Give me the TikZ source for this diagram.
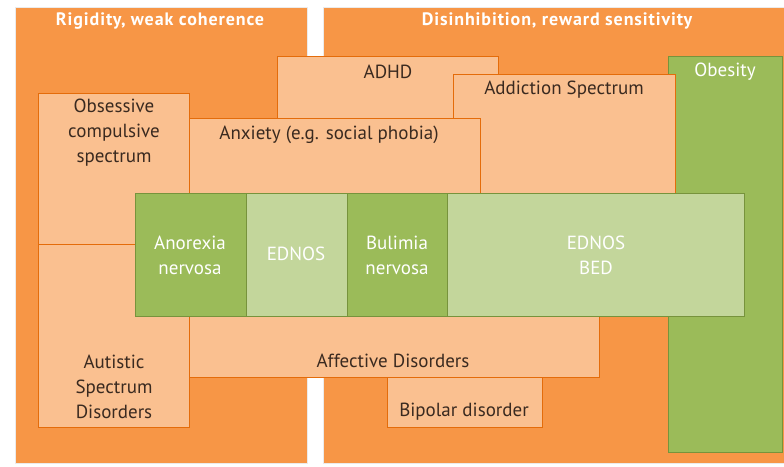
\documentclass[tikz,border=0pt]{standalone}
\usepackage{fontspec}
\setmainfont{PT Sans}
\usetikzlibrary{positioning}
\definecolor{org}{HTML}{F79646}
\definecolor{peach}{HTML}{FAC090}
\definecolor{orgline}{HTML}{E46C0A}
\definecolor{grn}{HTML}{9BBB59}
\definecolor{lgrn}{HTML}{C3D69B}
\definecolor{grnline}{HTML}{77933C}
\definecolor{txt}{HTML}{3A2A20}
\tikzset{
  panel/.style={fill=org, draw=black!8, line width=1pt, anchor=north west, inner sep=0pt},
  box/.style={fill=peach, draw=orgline, line width=1.2pt, anchor=north west, inner sep=0pt},
  dk/.style={box, fill=grn, draw=grnline},
  lt/.style={box, fill=lgrn, draw=grnline},
  lbl/.style={text=txt, font=\fontsize{19}{25}\selectfont, align=center, inner sep=0pt},
  wlbl/.style={lbl, text=white},
  ttl/.style={text=white, font=\bfseries\fontsize{18}{20}\selectfont\addfontfeature{LetterSpace=5}, inner sep=0pt},
}
\begin{document}
\begin{tikzpicture}[x=1pt, y=-1pt]
  \useasboundingbox (0,0) rectangle (784,466);
  % background panels
  \node[panel, minimum width=292, minimum height=456] (rigid) at (15,7) {};
  \node[panel, minimum width=462, minimum height=456] (disinh) at (323,7) {};
  \node[ttl] (rigidt) at (160,21) {Rigidity, weak coherence};
  \node[ttl] (disinht) at (557,21) {Disinhibition, reward sensitivity};
  % comorbid conditions
  \node[dk, minimum width=114, minimum height=396] (obes) at (668,56) {};
  \node[box, minimum width=221, minimum height=80] (adhd) at (277,56) {};
  \node[box, minimum width=222, minimum height=119] (addic) at (453,74) {};
  \node[box, minimum width=151, minimum height=151] (ocd) at (38,93) {};
  \node[box, minimum width=291, minimum height=75] (anx) at (189,118) {};
  \node[box, minimum width=151, minimum height=183] (asd) at (38,244) {};
  \node[box, minimum width=410, minimum height=61] (aff) at (189,316) {};
  \node[box, minimum width=155, minimum height=50] (bip) at (387,377) {};
  % eating disorders
  \node[dk, minimum width=111, minimum height=123] (an) at (135,193) {};
  \node[lt, minimum width=101, minimum height=123] (ednos) at (246,193) {};
  \node[dk, minimum width=100, minimum height=123] (bn) at (347,193) {};
  \node[lt, minimum width=297, minimum height=123] (bed) at (447,193) {};
  % labels
  \node[wlbl] (obesl) at (725,72) {Obesity};
  \node[lbl] (adhdl) at (388,72) {ADHD};
  \node[lbl] (addicl) at (564,90) {Addiction Spectrum};
  \node[lbl] (ocdl) at (114,133) {Obsessive\\compulsive\\spectrum};
  \node[lbl] (anxl) at (329,135) {Anxiety (e.g. social phobia)};
  \node[lbl] (asdl) at (114,387) {Autistic\\Spectrum\\Disorders};
  \node[lbl] (affl) at (393,361) {Affective Disorders};
  \node[lbl] (bipl) at (464,412) {Bipolar disorder};
  \node[wlbl] (anl) at (190,255) {Anorexia\\nervosa};
  \node[wlbl] (ednosl) at (296,254) {EDNOS};
  \node[wlbl] (bnl) at (397,255) {Bulimia\\nervosa};
  \node[wlbl] (bedl) at (596,255) {EDNOS\\BED};
\end{tikzpicture}
\end{document}
